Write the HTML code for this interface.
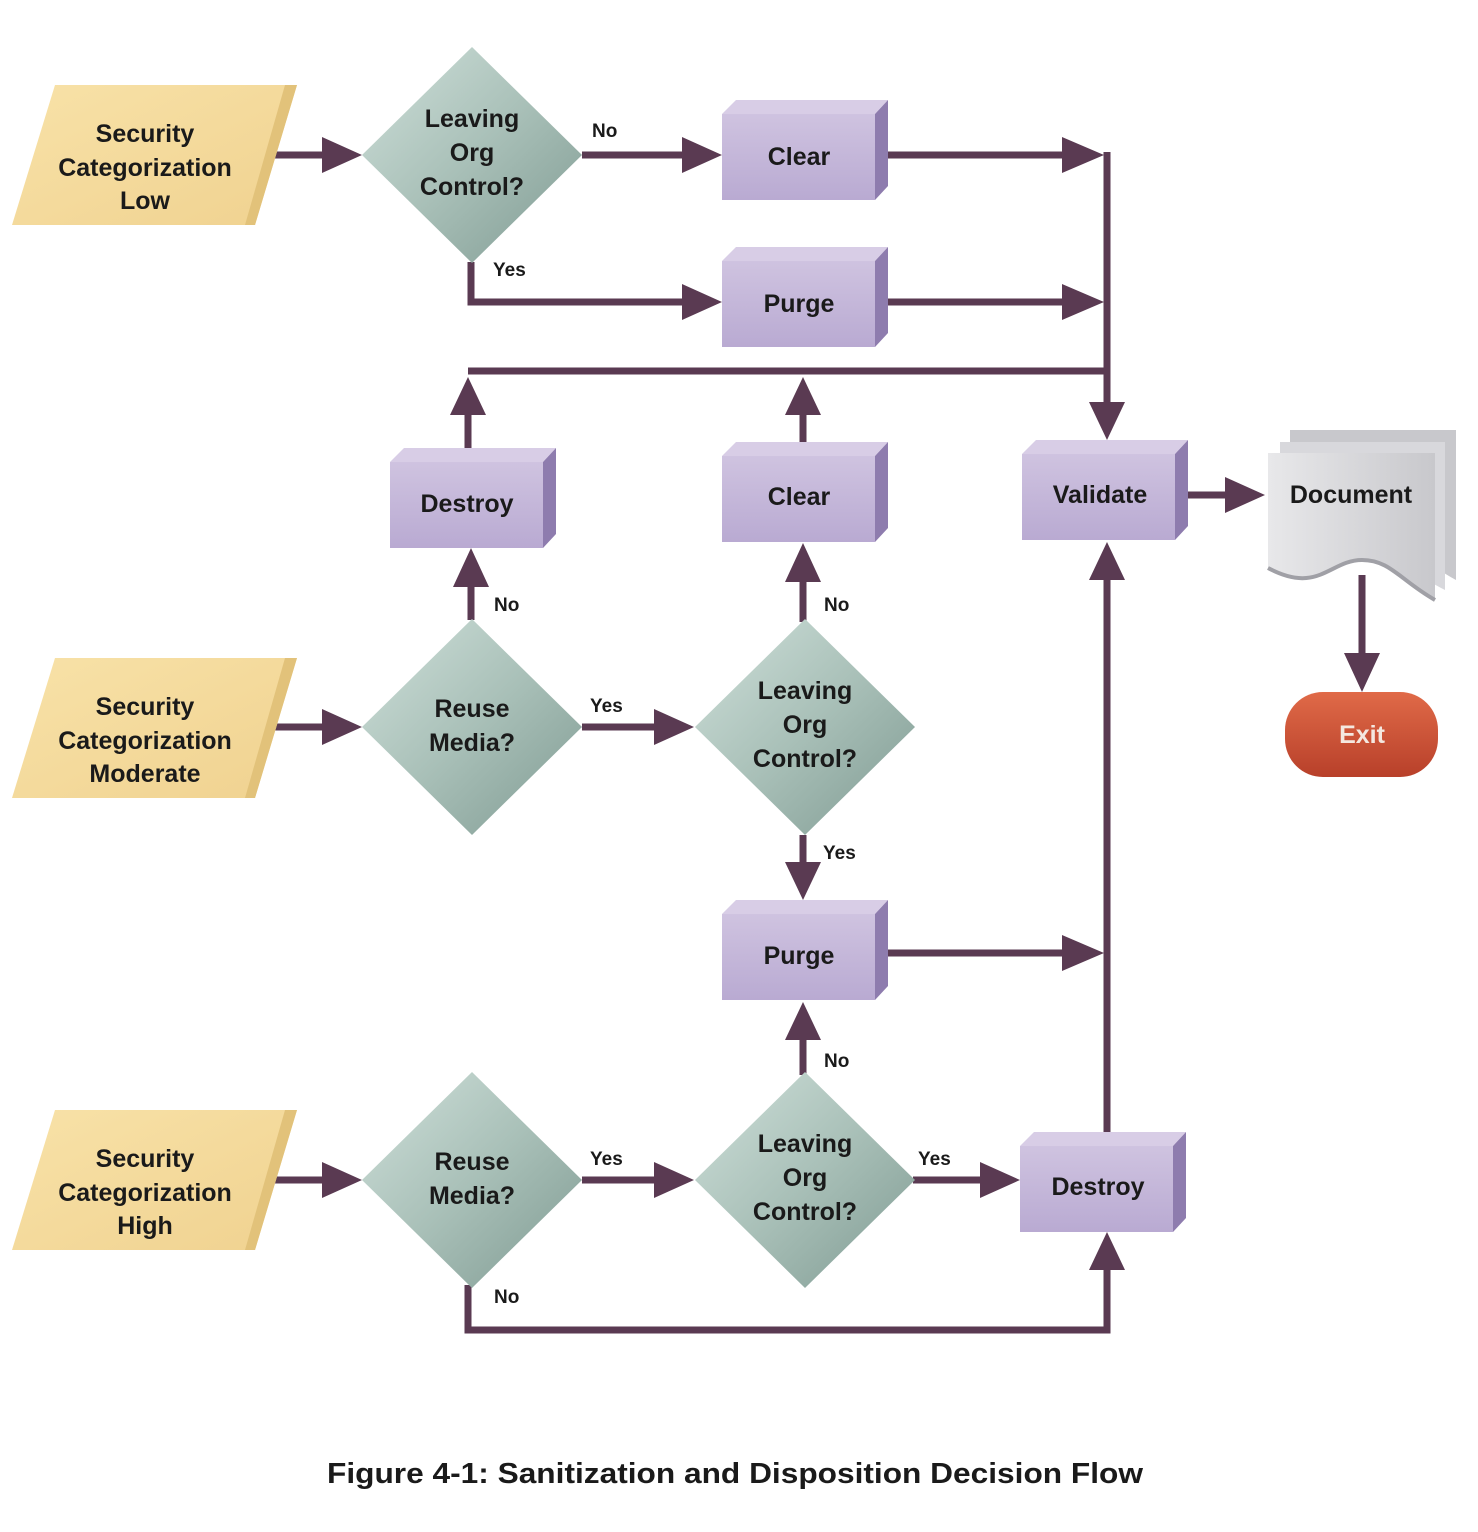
<!DOCTYPE html>
<html><head><meta charset="utf-8"><style>
html,body{margin:0;padding:0;background:#fff;}
svg{display:block;}
text{font-family:"Liberation Sans",sans-serif;font-weight:bold;fill:#1a1a1a;}
</style></head><body>
<svg width="1478" height="1532" viewBox="0 0 1478 1532" xmlns="http://www.w3.org/2000/svg">
<defs>
<linearGradient id="ye" x1="0" y1="0" x2="1" y2="1"><stop offset="0" stop-color="#f8e2a8"/><stop offset="1" stop-color="#f0d290"/></linearGradient>
<linearGradient id="dm" x1="0" y1="0" x2="1" y2="1"><stop offset="0" stop-color="#cfe0da"/><stop offset="0.5" stop-color="#a9c0b8"/><stop offset="1" stop-color="#7f9a92"/></linearGradient>
<linearGradient id="pu" x1="0" y1="0" x2="0" y2="1"><stop offset="0" stop-color="#cfc3e0"/><stop offset="1" stop-color="#b9aad2"/></linearGradient>
<linearGradient id="doc" x1="0" y1="0" x2="1" y2="0"><stop offset="0" stop-color="#e8e8ea"/><stop offset="1" stop-color="#c8c8cc"/></linearGradient>
<linearGradient id="ex" x1="0" y1="0" x2="0" y2="1"><stop offset="0" stop-color="#e06a48"/><stop offset="1" stop-color="#b8402a"/></linearGradient>
<g id="box">
<polygon points="0,14 14,0 166,0 153,14" fill="#d8cde6"/>
<polygon points="153,14 166,0 166,86 153,100" fill="#8e7cae"/>
<rect x="0" y="14" width="153" height="86" fill="url(#pu)"/>
</g>
<g id="para">
<polygon points="12,140 55,0 297,0 255,140" fill="url(#ye)"/>
<polygon points="255,140 297,0 285,0 245,140" fill="#e2c27a"/>
</g>
<g id="dia">
<polygon points="0,-108 110,0 0,108 -110,0" fill="url(#dm)"/>
</g>
</defs>

<g stroke="#5a3a52" stroke-width="7" fill="none">
<!-- top row -->
<line x1="272" y1="155" x2="330" y2="155"/>
<line x1="582" y1="155" x2="690" y2="155"/>
<polyline points="471,262 471,302 690,302"/>
<line x1="888" y1="155" x2="1070" y2="155"/>
<line x1="888" y1="302" x2="1070" y2="302"/>
<line x1="1107" y1="152" x2="1107" y2="410"/>
<line x1="468" y1="371" x2="1107" y2="371"/>
<line x1="468" y1="410" x2="468" y2="448"/>
<line x1="803" y1="410" x2="803" y2="442"/>
<!-- moderate -->
<line x1="272" y1="727" x2="330" y2="727"/>
<line x1="582" y1="727" x2="660" y2="727"/>
<line x1="471" y1="585" x2="471" y2="620"/>
<line x1="803" y1="580" x2="803" y2="622"/>
<line x1="803" y1="835" x2="803" y2="865"/>
<line x1="888" y1="953" x2="1070" y2="953"/>
<line x1="1188" y1="495" x2="1232" y2="495"/>
<line x1="1362" y1="575" x2="1362" y2="655"/>
<!-- high -->
<line x1="272" y1="1180" x2="330" y2="1180"/>
<line x1="582" y1="1180" x2="660" y2="1180"/>
<line x1="913" y1="1180" x2="985" y2="1180"/>
<line x1="803" y1="1040" x2="803" y2="1075"/>
<line x1="1107" y1="1132" x2="1107" y2="580"/>
<polyline points="468,1285 468,1330 1107,1330 1107,1268"/>
</g>

<g fill="#5a3a52">
<polygon points="322,137 362,155 322,173"/>
<polygon points="682,137 722,155 682,173"/>
<polygon points="682,284 722,302 682,320"/>
<polygon points="1062,137 1104,155 1062,173"/>
<polygon points="1062,284 1104,302 1062,320"/>
<polygon points="1089,402 1125,402 1107,440"/>
<polygon points="450,415 486,415 468,377"/>
<polygon points="785,415 821,415 803,377"/>
<polygon points="322,709 362,727 322,745"/>
<polygon points="654,709 694,727 654,745"/>
<polygon points="453,587 489,587 471,548"/>
<polygon points="785,582 821,582 803,543"/>
<polygon points="785,862 821,862 803,900"/>
<polygon points="1062,935 1104,953 1062,971"/>
<polygon points="1225,477 1265,495 1225,513"/>
<polygon points="1344,653 1380,653 1362,692"/>
<polygon points="1089,580 1125,580 1107,542"/>
<polygon points="322,1162 362,1180 322,1198"/>
<polygon points="654,1162 694,1180 654,1198"/>
<polygon points="980,1162 1020,1180 980,1198"/>
<polygon points="785,1040 821,1040 803,1002"/>
<polygon points="1089,1270 1125,1270 1107,1232"/>
</g>

<!-- parallelograms -->
<use href="#para" x="0" y="85"/>
<use href="#para" x="0" y="658"/>
<use href="#para" x="0" y="1110"/>
<g text-anchor="middle" font-size="25">
<text x="145" y="142">Security</text><text x="145" y="176">Categorization</text><text x="145" y="209">Low</text>
<text x="145" y="715">Security</text><text x="145" y="749">Categorization</text><text x="145" y="782">Moderate</text>
<text x="145" y="1167">Security</text><text x="145" y="1201">Categorization</text><text x="145" y="1234">High</text>
</g>

<!-- diamonds -->
<use href="#dia" x="472" y="155"/>
<use href="#dia" x="472" y="727"/>
<use href="#dia" x="805" y="727"/>
<use href="#dia" x="472" y="1180"/>
<use href="#dia" x="805" y="1180"/>
<g text-anchor="middle" font-size="25">
<text x="472" y="127">Leaving</text><text x="472" y="161">Org</text><text x="472" y="195">Control?</text>
<text x="472" y="717">Reuse</text><text x="472" y="751">Media?</text>
<text x="805" y="699">Leaving</text><text x="805" y="733">Org</text><text x="805" y="767">Control?</text>
<text x="472" y="1170">Reuse</text><text x="472" y="1204">Media?</text>
<text x="805" y="1152">Leaving</text><text x="805" y="1186">Org</text><text x="805" y="1220">Control?</text>
</g>

<!-- boxes -->
<use href="#box" x="722" y="100"/>
<use href="#box" x="722" y="247"/>
<use href="#box" x="390" y="448"/>
<use href="#box" x="722" y="442"/>
<use href="#box" x="1022" y="440"/>
<use href="#box" x="722" y="900"/>
<use href="#box" x="1020" y="1132"/>
<g text-anchor="middle" font-size="25">
<text x="799" y="165">Clear</text>
<text x="799" y="312">Purge</text>
<text x="467" y="512">Destroy</text>
<text x="799" y="505">Clear</text>
<text x="1100" y="503">Validate</text>
<text x="799" y="964">Purge</text>
<text x="1098" y="1195">Destroy</text>
</g>

<!-- document -->
<path d="M1290,430 H1456 V580 C1420,560 1410,545 1380,545 C1345,545 1335,565 1290,545 Z" fill="#c8c8cc"/>
<path d="M1280,442 H1445 V590 C1410,572 1400,560 1372,560 C1340,560 1325,580 1280,560 Z" fill="#d8d8dc"/>
<path d="M1268,453 H1435 V600 C1400,580 1390,560 1362,560 C1330,560 1318,595 1268,568 Z" fill="url(#doc)"/>
<path d="M1268,568 C1318,595 1330,560 1362,560 C1390,560 1400,580 1435,600" fill="none" stroke="#a0a0a6" stroke-width="4"/>
<text x="1351" y="503" text-anchor="middle" font-size="25">Document</text>

<!-- exit -->
<rect x="1285" y="692" width="153" height="85" rx="38" fill="url(#ex)"/>
<text x="1362" y="743" text-anchor="middle" font-size="25" style="fill:#f4e8e0">Exit</text>

<!-- labels -->
<g font-size="19">
<text x="592" y="137">No</text>
<text x="493" y="276">Yes</text>
<text x="494" y="611">No</text>
<text x="824" y="611">No</text>
<text x="590" y="712">Yes</text>
<text x="823" y="859">Yes</text>
<text x="824" y="1067">No</text>
<text x="590" y="1165">Yes</text>
<text x="918" y="1165">Yes</text>
<text x="494" y="1303">No</text>
</g>

<text x="735" y="1483" text-anchor="middle" font-size="29" textLength="816" lengthAdjust="spacingAndGlyphs">Figure 4-1: Sanitization and Disposition Decision Flow</text>
</svg>
</body></html>
